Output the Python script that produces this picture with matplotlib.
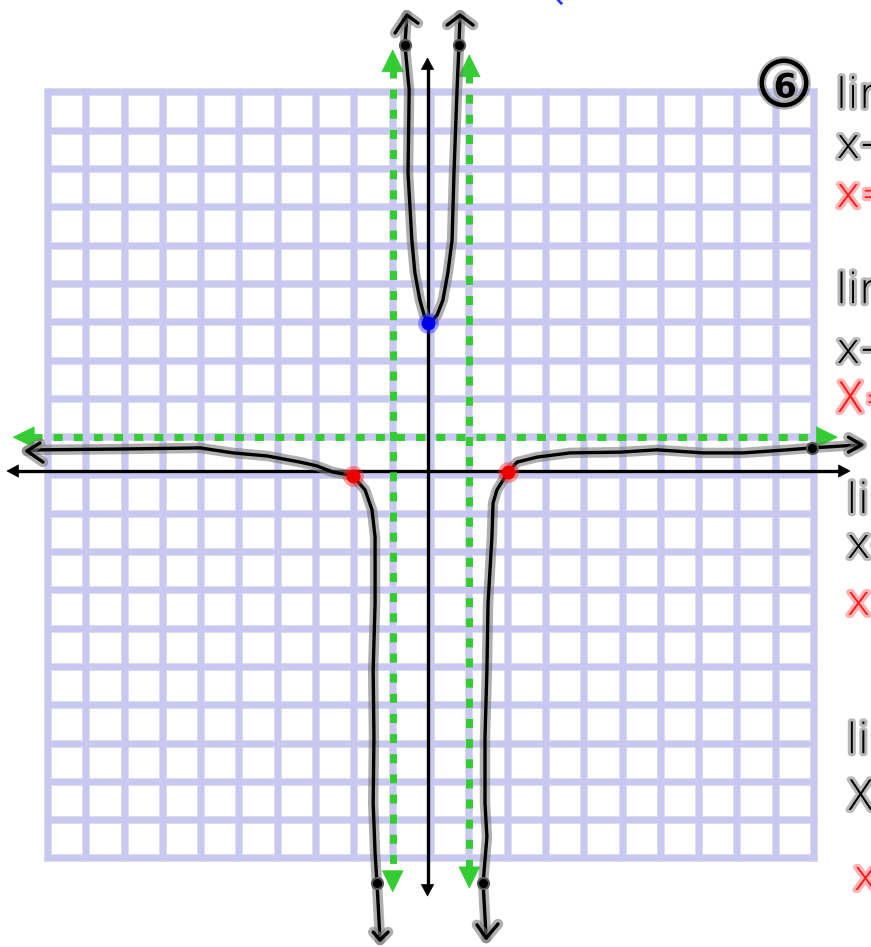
import numpy as np
import matplotlib
matplotlib.use("Agg")
import matplotlib.pyplot as plt
import matplotlib.patheffects as pe
from matplotlib.patches import Polygon, Circle

# ---------------- data (math units) ----------------
grid_ticks = list(range(-10, 11))

# vertical asymptotes x = -1, 1 ; horizontal asymptote y = 1
vert_asymptotes = [-1, 1]
horiz_asymptote = 1

# middle branch (U shape)
mid_x = [-0.68, -0.57, -0.60, -0.50, -0.42, -0.29, -0.18, -0.08, 0.05, 0.16, 0.31, 0.44, 0.55, 0.60, 0.68, 0.73]
mid_y = [11.24, 10.07, 7.90, 6.15, 5.29, 4.58, 4.19, 3.98, 4.06, 4.19, 4.58, 5.29, 6.15, 7.90, 10.07, 11.24]

# left branch (from far left down to bottom)
left_x = [-10.55, -10.21, -8.12, -6.03, -5.17, -4.28, -3.42, -2.98, -2.56, -2.04, -1.72, -1.54, -1.46, -1.46, -1.51, -1.49, -1.51, -1.46, -1.41, -1.33]
left_y = [0.64, 0.67, 0.69, 0.72, 0.59, 0.51, 0.35, 0.25, 0.09, -0.01, -0.38, -0.90, -1.61, -3.33, -5.08, -6.83, -8.55, -9.86, -10.64, -12.13]

# right branch (from bottom up to far right)
right_x = [1.44, 1.36, 1.46, 1.41, 1.41, 1.46, 1.49, 1.59, 1.62, 1.72, 2.01, 2.25, 2.77, 3.63, 4.94, 5.90, 7.10, 8.15, 9.30, 9.95, 11.20]
right_y = [-12.08, -10.64, -9.44, -8.55, -6.83, -5.08, -3.33, -1.61, -0.72, -0.38, 0.09, 0.35, 0.48, 0.59, 0.61, 0.67, 0.59, 0.59, 0.67, 0.72, 0.80]

# hand-drawn arrow tips of the curve: (wing1, tip, wing2)
curve_arrows = [
    [(-0.94, 11.55), (-0.63, 12.02), (-0.34, 11.81)],
    [(0.42, 11.76), (0.76, 12.02), (1.10, 11.76)],
    [(-10.21, 0.85), (-10.55, 0.64), (-10.13, 0.35)],
    [(-1.51, -11.92), (-1.33, -12.13), (-1.12, -11.92)],
    [(1.20, -11.73), (1.44, -12.08), (1.75, -11.71)],
    [(10.90, 1.00), (11.25, 0.80), (10.90, 0.61)],
]
# points on curve
end_dots_x = [-0.68, 0.73, -1.41, 1.36, 9.95]
end_dots_y = [11.24, 11.24, -10.64, -10.64, 0.72]
x_intercepts_x = [-2.04, 2.01]
x_intercepts_y = [-0.01, 0.09]
y_intercept = (-0.09, 3.98)

# ---------------- figure ----------------
fig = plt.figure(figsize=(8.71, 9.47), dpi=100)
ax = fig.add_axes([0, 0, 1, 1])
ax.set_xlim(-11.253, 11.488)
ax.set_ylim(-12.311, 12.415)
ax.axis('off')

# grid
for t in grid_ticks:
    for c, lw, z in (('#dcdce4', 5.6, 1), ('#c8c8f2', 4.4, 2)):
        ax.plot([t, t], [-10, 10], color=c, lw=lw, solid_capstyle='projecting', zorder=z)
        ax.plot([-10, 10], [t, t], color=c, lw=lw, solid_capstyle='projecting', zorder=z)


def head(tip, direction, length, half, color, z):
    d = np.array(direction, float)
    d /= np.linalg.norm(d)
    n = np.array([-d[1], d[0]])
    tip = np.array(tip, float)
    base = tip - d * length
    poly = Polygon([tip, base + n * half, base - n * half], closed=True,
                   facecolor=color, edgecolor=color, lw=0.5, zorder=z)
    ax.add_patch(poly)


# black axes
ax_y, ax_x = 0.117, -0.091
ax.plot([-10.8, 10.68], [ax_y, ax_y], color='black', lw=2.4, zorder=3)
head((-11.07, ax_y), (-1, 0), 0.30, 0.16, 'black', 3)
head((10.94, ax_y), (1, 0), 0.30, 0.16, 'black', 3)
ax.plot([ax_x, ax_x], [10.64, -10.70], color='black', lw=2.4, zorder=3)
head((ax_x, 10.90), (0, 1), 0.30, 0.16, 'black', 3)
head((ax_x, -10.98), (0, -1), 0.30, 0.16, 'black', 3)

# green dashed asymptotes
green = '#33cc33'
va_top = [11.11, 10.98]
va_bot = [-10.87, -10.77]
for xv, tp, bt in zip(vert_asymptotes, va_top, va_bot):
    ax.plot([xv, xv], [tp - 0.5, bt + 0.5], color=green, lw=5, dashes=(1.3, 1.6),
            dash_capstyle='butt', zorder=4)
    head((xv, tp), (0, 1), 0.57, 0.28, green, 4)
    head((xv, bt), (0, -1), 0.55, 0.27, green, 4)
ax.plot([-10.4, 10.1], [horiz_asymptote, horiz_asymptote], color=green, lw=5,
        dashes=(1.3, 1.6), dash_capstyle='butt', zorder=4)
head((-10.91, horiz_asymptote), (-1, 0), 0.55, 0.27, green, 4)
head((10.61, horiz_asymptote), (1, 0), 0.55, 0.27, green, 4)

# curve with grey halo
halo = [pe.Stroke(linewidth=7.5, foreground='#7a7a7a', alpha=0.6), pe.Normal()]
for xs, ys in ((mid_x, mid_y), (left_x, left_y), (right_x, right_y)):
    ax.plot(xs, ys, color='black', lw=2.4, zorder=5, path_effects=halo,
            solid_capstyle='round', solid_joinstyle='round')
ax.plot([0.73, 0.76], [11.24, 12.02], color='black', lw=2.4, zorder=5, path_effects=halo,
        solid_capstyle='round')
ax.plot([-0.68, -0.63], [11.24, 12.02], color='black', lw=2.4, zorder=5, path_effects=halo,
        solid_capstyle='round')
for arr in curve_arrows:
    xs = [p[0] for p in arr]
    ys = [p[1] for p in arr]
    ax.plot(xs, ys, color='black', lw=2.4, zorder=5, path_effects=halo,
            solid_capstyle='round', solid_joinstyle='round')

ax.plot(end_dots_x, end_dots_y, 'o', color='black', ms=8, zorder=6,
        markeredgecolor='#555555', markeredgewidth=1.5)

# intercepts
ax.plot(x_intercepts_x, x_intercepts_y, 'o', color='#ff3030', ms=15, alpha=0.45, zorder=6, mec='none')
ax.plot(x_intercepts_x, x_intercepts_y, 'o', color='#ee0000', ms=10, zorder=7, mec='none')
ax.plot([y_intercept[0]], [y_intercept[1]], 'o', color='#3030ff', ms=15, alpha=0.45, zorder=6, mec='none')
ax.plot([y_intercept[0]], [y_intercept[1]], 'o', color='#0000ee', ms=10, zorder=7, mec='none')

# tiny blue mark at the top
ax.plot([3.33, 3.40], [12.40, 12.33], color='#3333ff', lw=2, zorder=5)

# handwritten notes on the right (cut off by the edge, as in the original)
th = [pe.Stroke(linewidth=4.5, foreground='#8a8a8a', alpha=0.6), pe.Normal()]
thr = [pe.Stroke(linewidth=4.5, foreground='#ff8080', alpha=0.6), pe.Normal()]
circ = Circle((9.217, 10.25), 0.58, fill=False, lw=3.2, edgecolor='black', zorder=8,
              path_effects=[pe.Stroke(linewidth=6.5, foreground='#7a7a7a', alpha=0.6), pe.Normal()])
ax.add_patch(circ)
ax.text(9.25, 10.12, '6', fontsize=24, color='black', ha='center', va='center',
        fontweight='bold', zorder=8, path_effects=th)

notes = [
    (10.57, 9.60, 'lim', 'black'), (10.57, 8.29, 'x→', 'black'), (10.57, 7.01, 'x=', '#ff1a1a'),
    (10.57, 4.50, 'lim', 'black'), (10.57, 2.94, 'x→', 'black'), (10.57, 1.66, 'X=', '#ff1a1a'),
    (10.84, -0.98, 'lim', 'black'), (10.84, -2.15, 'x→', 'black'), (10.84, -3.64, 'x=', '#ff1a1a'),
    (10.84, -7.25, 'lim', 'black'), (10.84, -8.73, 'X→', 'black'), (11.02, -10.82, 'x=', '#ff1a1a'),
]
for x, y, s, c in notes:
    ax.text(x, y, s, fontsize=30, color=c, ha='left', va='baseline', zorder=8,
            fontweight='light', path_effects=(th if c == 'black' else thr))

fig.savefig('out.png', dpi=100)
